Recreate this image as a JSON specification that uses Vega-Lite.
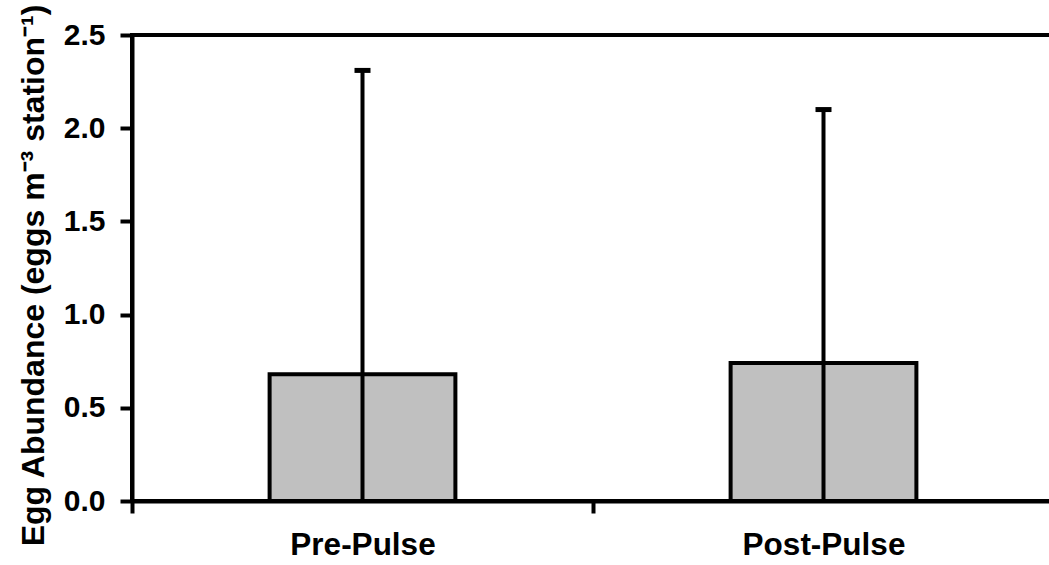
{
  "$schema": "https://vega.github.io/schema/vega-lite/v6.json",
  "autosize": "none",
  "padding": {"left": 132, "top": 35, "right": 0, "bottom": 64},
  "width": 922,
  "height": 466,
  "background": "white",
  "config": {
    "view": {"stroke": "black", "strokeWidth": 4},
    "font": "Liberation Sans",
    "axis": {
      "labelFont": "Liberation Sans",
      "labelFontWeight": "bold",
      "labelFontSize": 30,
      "labelColor": "black",
      "titleFont": "Liberation Sans",
      "titleFontWeight": "bold",
      "titleFontSize": 32,
      "titleColor": "black",
      "tickSize": 12,
      "tickWidth": 4,
      "tickColor": "black",
      "domainColor": "black",
      "domainWidth": 4,
      "grid": false
    }
  },
  "data": {
    "values": [
      {"period": "Pre-Pulse", "mean": 0.68, "upper": 2.31, "zero": 0},
      {"period": "Post-Pulse", "mean": 0.74, "upper": 2.1, "zero": 0}
    ]
  },
  "encoding": {
    "x": {
      "field": "period",
      "type": "nominal",
      "sort": null,
      "scale": {"paddingInner": 0, "paddingOuter": 0},
      "axis": {
        "title": null,
        "labelAngle": 0,
        "labelFontSize": 31.5,
        "labelPadding": 16,
        "tickBand": "extent"
      }
    }
  },
  "layer": [
    {
      "mark": {"type": "bar", "fill": "#c0c0c0", "stroke": "black", "strokeWidth": 4, "width": {"band": 0.403}},
      "encoding": {
        "y": {
          "field": "mean",
          "type": "quantitative",
          "scale": {"domain": [0, 2.5], "nice": false},
          "axis": {
            "title": "Egg Abundance (eggs m⁻³ station⁻¹)",
            "titlePadding": 13,
            "titleY": 240,
            "values": [0, 0.5, 1, 1.5, 2, 2.5],
            "format": ".1f",
            "labelPadding": 15
          }
        }
      }
    },
    {
      "mark": {"type": "rule", "stroke": "black", "strokeWidth": 4},
      "encoding": {
        "y": {"field": "upper", "type": "quantitative"},
        "y2": {"field": "zero"}
      }
    },
    {
      "mark": {"type": "tick", "color": "black", "opacity": 1, "size": 16, "thickness": 5},
      "encoding": {
        "y": {"field": "upper", "type": "quantitative"}
      }
    }
  ]
}
